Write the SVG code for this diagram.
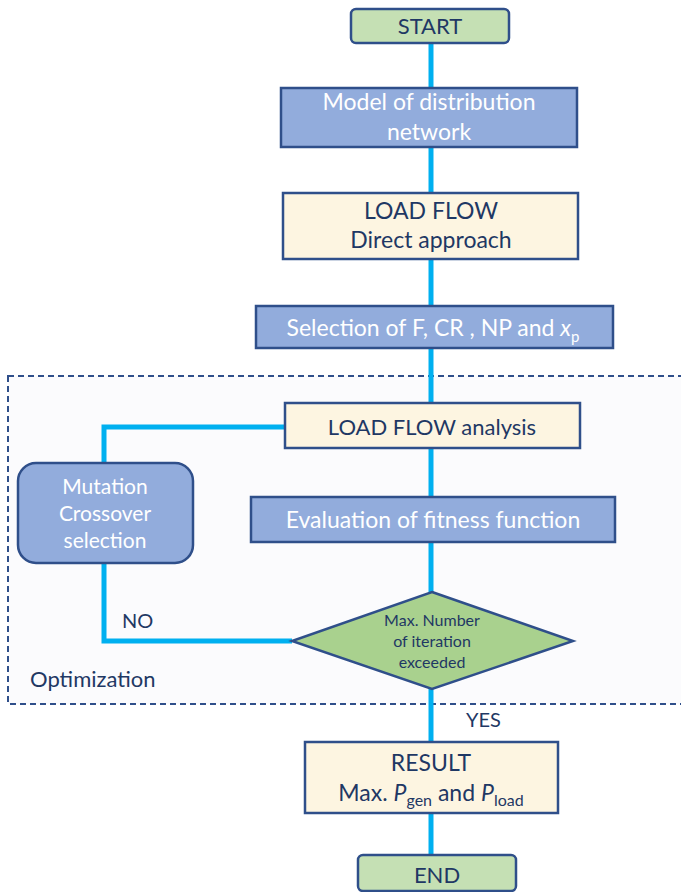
<svg xmlns="http://www.w3.org/2000/svg" width="681" height="892" viewBox="0 0 681 892">
<style>
  .t{font-family:Lato,"Open Sans","DejaVu Sans",sans-serif;text-anchor:middle;}
  .l{font-family:Lato,"Open Sans","DejaVu Sans",sans-serif;fill:#1f3864;}
  .dk{fill:#1f3864;}
  .wh{fill:#ffffff;}
  .box{stroke:#2f4f8a;stroke-width:2.5;}
  .blue{fill:#92acdc;}
  .cream{fill:#fdf5e1;}
  .green{fill:#c5e0b4;}
  .conn{stroke:#00b0f0;stroke-width:5;fill:none;}
</style>
<rect id="optimization-region" x="8" y="376" width="690" height="328" fill="#fbfbfd" stroke="#2f4f8a" stroke-width="2" stroke-dasharray="6,4"/>
<g id="connectors">
  <line class="conn" x1="431" y1="43" x2="431" y2="88"/>
  <line class="conn" x1="431" y1="147" x2="431" y2="193"/>
  <line class="conn" x1="431" y1="259" x2="431" y2="306"/>
  <line class="conn" x1="431" y1="348" x2="431" y2="403"/>
  <line class="conn" x1="431" y1="448" x2="431" y2="497"/>
  <line class="conn" x1="431" y1="542" x2="431" y2="592"/>
  <polyline class="conn" points="285,427 104,427 104,463"/>
  <polyline class="conn" points="104,563 104,641 292,641"/>
  <line class="conn" x1="431" y1="689" x2="431" y2="742"/>
  <line class="conn" x1="431" y1="813" x2="431" y2="855"/>
</g>
<g id="start">
  <rect class="box green" x="351" y="9" width="158" height="34" rx="5"/>
  <text class="t dk" x="430" y="34" font-size="22">START</text>
</g>
<g id="model">
  <rect class="box blue" x="281" y="88" width="296" height="59"/>
  <text class="t wh" x="429" y="110" font-size="23">Model of distribution</text>
  <text class="t wh" x="429" y="140" font-size="23">network</text>
</g>
<g id="loadflow-direct">
  <rect class="box cream" x="283" y="193" width="295" height="66"/>
  <text class="t dk" x="431" y="219" font-size="23">LOAD FLOW</text>
  <text class="t dk" x="431" y="248" font-size="23">Direct approach</text>
</g>
<g id="selection">
  <rect class="box blue" x="256" y="306" width="357" height="42"/>
  <text class="t wh" x="433" y="336" font-size="23">Selection of F, CR , NP and <tspan font-style="italic">x</tspan><tspan font-size="15" dy="6">p</tspan></text>
</g>
<g id="loadflow-analysis">
  <rect class="box cream" x="285" y="403" width="295" height="45"/>
  <text class="t dk" x="432" y="435" font-size="22">LOAD FLOW analysis</text>
</g>
<g id="evaluation">
  <rect class="box blue" x="251" y="497" width="364" height="45"/>
  <text class="t wh" x="433" y="528" font-size="23">Evaluation of fitness function</text>
</g>
<g id="mutation">
  <rect class="box blue" x="18" y="463" width="175" height="100" rx="18"/>
  <text class="t wh" x="105" y="494" font-size="21">Mutation</text>
  <text class="t wh" x="105" y="521" font-size="21">Crossover</text>
  <text class="t wh" x="105" y="548" font-size="21">selection</text>
</g>
<g id="decision">
  <polygon points="432,592 573,641 432,689 292,641" fill="#a9d18e" stroke="#2f4f8a" stroke-width="2.5"/>
  <text class="t dk" x="432" y="626" font-size="16">Max. Number</text>
  <text class="t dk" x="432" y="647" font-size="16">of iteration</text>
  <text class="t dk" x="432" y="668" font-size="16">exceeded</text>
</g>
<g id="labels">
  <text class="l" x="122" y="628" font-size="20">NO</text>
  <text class="l" x="30" y="687" font-size="22">Optimization</text>
  <text class="l" x="466" y="727" font-size="20">YES</text>
</g>
<g id="result">
  <rect class="box cream" x="305" y="742" width="253" height="71"/>
  <text class="t dk" x="431" y="771" font-size="23">RESULT</text>
  <text class="t dk" x="431" y="801" font-size="23">Max. <tspan font-style="italic">P</tspan><tspan font-size="16" dy="5">gen</tspan><tspan dy="-5"> and </tspan><tspan font-style="italic">P</tspan><tspan font-size="16" dy="5">load</tspan></text>
</g>
<g id="end">
  <rect class="box green" x="358" y="855" width="158" height="36" rx="5"/>
  <text class="t dk" x="437" y="883" font-size="22">END</text>
</g>
</svg>
